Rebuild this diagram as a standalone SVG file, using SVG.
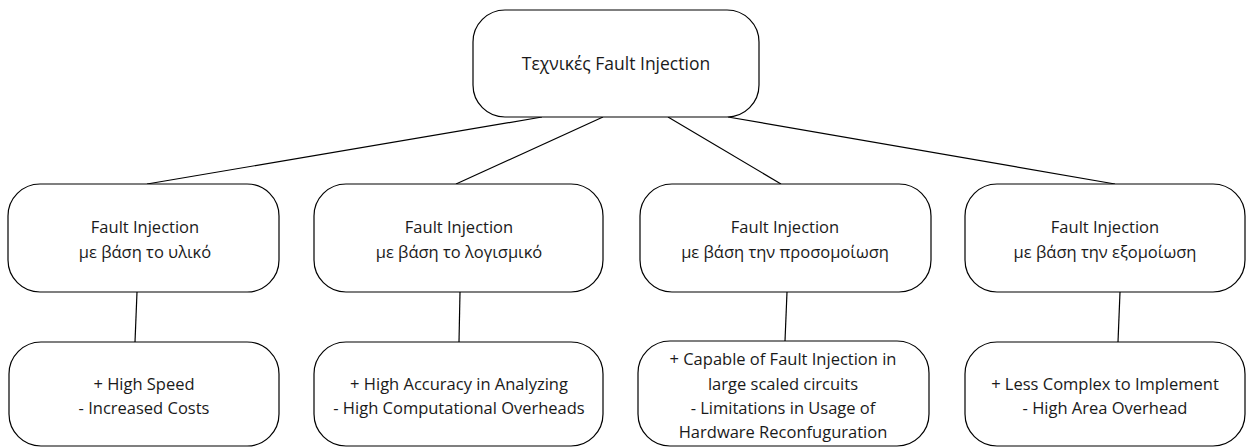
<svg xmlns="http://www.w3.org/2000/svg" width="1253" height="448" viewBox="0 0 1253 448">
  <style>
    .box { fill: #ffffff; stroke: #000000; stroke-width: 1.2; }
    .lbl { font-family: "Open Sans", "Liberation Sans", sans-serif; font-size: 16.5px; fill: #1a1a1a; text-anchor: middle; }
    .title { font-size: 17.5px; }
    .wire { stroke: #000000; stroke-width: 1.2; fill: none; }
  </style>
  <rect width="1253" height="448" fill="#ffffff"/>

  <g id="connectors">
    <line class="wire" x1="542" y1="117" x2="147" y2="184"/>
    <line class="wire" x1="603" y1="117" x2="456" y2="184"/>
    <line class="wire" x1="668" y1="117" x2="781" y2="184"/>
    <line class="wire" x1="728" y1="117" x2="1115" y2="184"/>
    <line class="wire" x1="137" y1="292" x2="135" y2="342"/>
    <line class="wire" x1="460" y1="292" x2="459" y2="342"/>
    <line class="wire" x1="787" y1="292" x2="785" y2="341"/>
    <line class="wire" x1="1120" y1="292" x2="1118" y2="342"/>
  </g>

  <g id="root">
    <rect class="box" x="473" y="10" width="286" height="107" rx="32" ry="32"/>
    <text class="lbl title" x="616" y="70">Τεχνικές Fault Injection</text>
  </g>

  <g id="hardware">
    <rect class="box" x="8" y="184" width="271" height="108" rx="32" ry="32"/>
    <text class="lbl" x="145" y="233">Fault Injection</text>
    <text class="lbl" x="145" y="258">με βάση το υλικό</text>
  </g>
  <g id="software">
    <rect class="box" x="314" y="184" width="289" height="108" rx="32" ry="32"/>
    <text class="lbl" x="459" y="233">Fault Injection</text>
    <text class="lbl" x="459" y="258">με βάση το λογισμικό</text>
  </g>
  <g id="simulation">
    <rect class="box" x="640" y="184" width="291" height="108" rx="32" ry="32"/>
    <text class="lbl" x="785" y="233">Fault Injection</text>
    <text class="lbl" x="785" y="258">με βάση την προσομοίωση</text>
  </g>
  <g id="emulation">
    <rect class="box" x="965" y="184" width="280" height="108" rx="32" ry="32"/>
    <text class="lbl" x="1105" y="233">Fault Injection</text>
    <text class="lbl" x="1105" y="258">με βάση την εξομοίωση</text>
  </g>

  <g id="hardware-notes">
    <rect class="box" x="9" y="342" width="270" height="104" rx="32" ry="32"/>
    <text class="lbl" x="144" y="390">+ High Speed</text>
    <text class="lbl" x="144" y="414">- Increased Costs</text>
  </g>
  <g id="software-notes">
    <rect class="box" x="314" y="342" width="289" height="104" rx="32" ry="32"/>
    <text class="lbl" x="459" y="390">+ High Accuracy in Analyzing</text>
    <text class="lbl" x="459" y="414">- High Computational Overheads</text>
  </g>
  <g id="simulation-notes">
    <rect class="box" x="638" y="341" width="291" height="105" rx="32" ry="32"/>
    <text class="lbl" x="783" y="365">+ Capable of Fault Injection in</text>
    <text class="lbl" x="783" y="390">large scaled circuits</text>
    <text class="lbl" x="783" y="414">- Limitations in Usage of</text>
    <text class="lbl" x="783" y="438">Hardware Reconfuguration</text>
  </g>
  <g id="emulation-notes">
    <rect class="box" x="965" y="342" width="280" height="104" rx="32" ry="32"/>
    <text class="lbl" x="1105" y="390">+ Less Complex to Implement</text>
    <text class="lbl" x="1105" y="414">- High Area Overhead</text>
  </g>
</svg>
